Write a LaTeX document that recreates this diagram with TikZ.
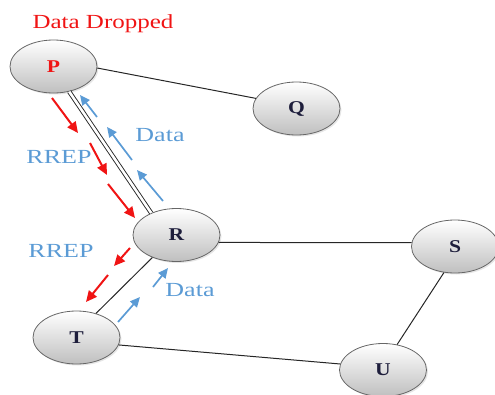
\documentclass[tikz,border=0pt]{standalone}
\usepackage{fontspec}
\setmainfont{Liberation Serif}
\usetikzlibrary{arrows.meta,shadows,shapes.geometric}
\definecolor{dropred}{RGB}{240,20,20}
\definecolor{msgblue}{RGB}{91,155,213}
\definecolor{lblink}{RGB}{30,30,60}
\tikzset{
  netnode/.style={ellipse, minimum width=87pt, minimum height=53pt, inner sep=0pt,
    draw=gray!80!black, line width=0.8pt, top color=white, bottom color=gray!50,
    drop shadow={opacity=0.2, shadow xshift=1.5pt, shadow yshift=-1.5pt},
    font=\fontsize{18}{20}\selectfont\bfseries, text=lblink},
  link/.style={draw=black!85, line width=1pt},
  rrep/.style={draw=dropred, line width=2pt, -{Triangle[length=11pt,width=10pt]}},
  datamsg/.style={draw=msgblue, line width=1.7pt, -{Triangle[length=10pt,width=9pt]}},
  note/.style={inner sep=0pt, font=\fontsize{20}{24}\selectfont}
}
\begin{document}
\begin{tikzpicture}[x=1pt,y=-1pt]
\useasboundingbox (0,0) rectangle (495,394);
\clip (0,0) rectangle (495,394);
\node[netnode, text=dropred] (P) at (53.5,66.5) {\scalebox{1.2}[1]{P}};
\node[netnode] (Q) at (296.5,108.5) {\scalebox{1.2}[1]{Q}};
\node[netnode] (R) at (176.5,235) {\scalebox{1.2}[1]{R}};
\node[netnode] (S) at (455,246.5) {\scalebox{1.2}[1]{S}};
\node[netnode] (T) at (76.5,337.5) {\scalebox{1.2}[1]{T}};
\node[netnode] (U) at (383,370) {\scalebox{1.2}[1]{U}};

\draw[link] (P.-2) -- (Q.166);
\draw[link, double=white, double distance=2.6pt, line width=0.9pt] (P.-58) -- (R.139);
\draw[link] (R.-10) -- (S.175);
\draw[link] (R.-137) -- (T.51);
\draw[link] (S.-113) -- (U.61);
\draw[link] (T.-10) -- (U.172);

% RREP arrows P -> R
\draw[rrep] (52,98) -- (78,133);
\draw[rrep] (90,143) -- (107,175);
\draw[rrep] (108,184) -- (135,218);
% Data arrows R -> P
\draw[datamsg] (97,117) -- (80,95);
\draw[datamsg] (132,160) -- (107,127);
\draw[datamsg] (163,201) -- (137,170);
% RREP arrows R -> T
\draw[rrep] (130,248) -- (114,266);
\draw[rrep] (108,275) -- (86,302);
% Data arrows T -> R
\draw[datamsg] (118,322) -- (140,297);
\draw[datamsg] (153,287) -- (168,268);

\node[note, text=dropred] (dd) at (103,24) {\scalebox{1.25}[1]{Data Dropped}};
\node[note, text=msgblue] (rr1) at (59,157) {\scalebox{1.3}[1]{RREP}};
\node[note, text=msgblue] (da1) at (160,135) {\scalebox{1.3}[1]{Data}};
\node[note, text=msgblue] (rr2) at (61,251) {\scalebox{1.3}[1]{RREP}};
\node[note, text=msgblue] (da2) at (190,290) {\scalebox{1.3}[1]{Data}};
\end{tikzpicture}
\end{document}
